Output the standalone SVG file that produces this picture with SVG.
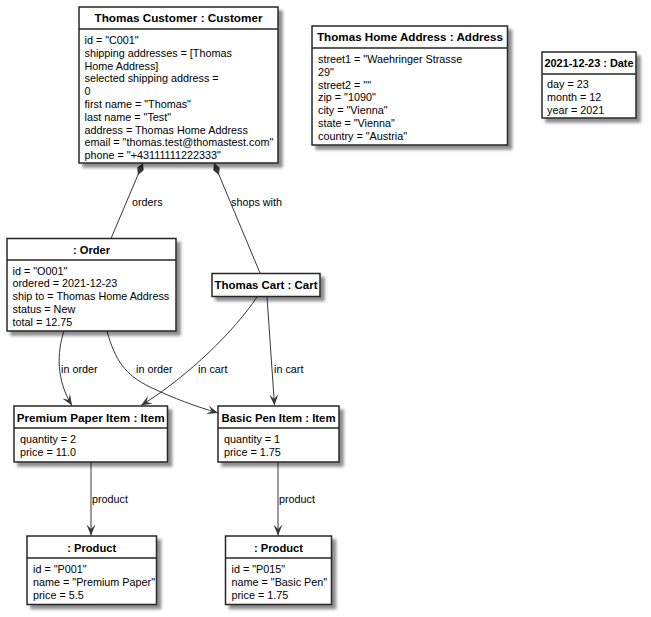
<svg xmlns="http://www.w3.org/2000/svg" width="651" height="617" viewBox="0 0 651 617">
<style>
.box{fill:#ffffff;stroke:#262626;stroke-width:1.5;filter:url(#sh)}
.sep{stroke:#262626;stroke-width:1.5}
.t{font-family:"Liberation Sans",Arial,sans-serif;font-weight:bold;font-size:11.7px;fill:#000;text-anchor:middle}
.b{font-family:"Liberation Sans",Arial,sans-serif;font-size:10.8px;fill:#000}
.l{font-family:"Liberation Sans",Arial,sans-serif;font-size:10.8px;fill:#000}
.c{fill:none;stroke:#383838;stroke-width:1}
</style>
<defs>
<filter id="sh" x="-10%" y="-10%" width="130%" height="140%">
<feGaussianBlur in="SourceAlpha" stdDeviation="1.8"/>
<feOffset dx="4" dy="4"/>
<feComponentTransfer><feFuncA type="linear" slope="0.45"/></feComponentTransfer>
<feMerge><feMergeNode/><feMergeNode in="SourceGraphic"/></feMerge>
</filter>
<marker id="arr" viewBox="0 0 11 10" refX="11" refY="5" markerWidth="11" markerHeight="10" markerUnits="userSpaceOnUse" orient="auto">
<path d="M11,5 L0,0.5 L4.5,5 L0,9.5 Z" fill="#383838"/>
</marker>
<marker id="dia" viewBox="0 0 13 9" refX="0" refY="4.5" markerWidth="13" markerHeight="9" markerUnits="userSpaceOnUse" orient="auto">
<path d="M0,4.5 L6.5,1 L13,4.5 L6.5,8 Z" fill="#383838"/>
</marker>
</defs>
<g id="connectors">
<path class="c" d="M143,163 L111,238.5" marker-start="url(#dia)"/>
<path class="c" d="M214,163 L260,273" marker-start="url(#dia)"/>
<path class="c" d="M64,331 C57,352 56,380 72,405.5" marker-end="url(#arr)"/>
<path class="c" d="M107,331 C115,360 125,375 150,387 C175,399 195,406 218,413" marker-end="url(#arr)"/>
<path class="c" d="M257,297 C235,330 190,375 141,405.5" marker-end="url(#arr)"/>
<path class="c" d="M267,297 L274.5,405.5" marker-end="url(#arr)"/>
<path class="c" d="M91,462 L91,535.5" marker-end="url(#arr)"/>
<path class="c" d="M278,462 L278,535.5" marker-end="url(#arr)"/>
<text class="l" x="132" y="206">orders</text>
<text class="l" x="231" y="206">shops with</text>
<text class="l" x="61" y="373">in order</text>
<text class="l" x="136" y="373">in order</text>
<text class="l" x="198" y="373">in cart</text>
<text class="l" x="274" y="373">in cart</text>
<text class="l" x="92" y="503">product</text>
<text class="l" x="279" y="503">product</text>
</g>
<g id="customer">
<rect class="box" x="79" y="7" width="199" height="156"/>
<line class="sep" x1="79" y1="29" x2="278" y2="29"/>
<text class="t" x="178.5" y="22" textLength="168" lengthAdjust="spacingAndGlyphs">Thomas Customer : Customer</text>
<text class="b"><tspan x="84.5" y="44">id = "C001"</tspan><tspan x="84.5" y="56.8">shipping addresses = [Thomas</tspan><tspan x="84.5" y="69.6">Home Address]</tspan><tspan x="84.5" y="82.4">selected shipping address =</tspan><tspan x="84.5" y="95.2">0</tspan><tspan x="84.5" y="108">first name = "Thomas"</tspan><tspan x="84.5" y="120.8">last name = "Test"</tspan><tspan x="84.5" y="133.6">address = Thomas Home Address</tspan><tspan x="84.5" y="146.4">email = "thomas.test@thomastest.com"</tspan><tspan x="84.5" y="159.2">phone = "+43111111222333"</tspan></text>
</g>
<g id="address">
<rect class="box" x="312" y="26" width="195.5" height="119"/>
<line class="sep" x1="312" y1="48" x2="507.5" y2="48"/>
<text class="t" x="410" y="41" textLength="186" lengthAdjust="spacingAndGlyphs">Thomas Home Address : Address</text>
<text class="b"><tspan x="318" y="63">street1 = "Waehringer Strasse</tspan><tspan x="318" y="75.8">29"</tspan><tspan x="318" y="88.6">street2 = ""</tspan><tspan x="318" y="101.4">zip = "1090"</tspan><tspan x="318" y="114.2">city = "Vienna"</tspan><tspan x="318" y="127">state = "Vienna"</tspan><tspan x="318" y="139.8">country = "Austria"</tspan></text>
</g>
<g id="date">
<rect class="box" x="542" y="52" width="94" height="66"/>
<line class="sep" x1="542" y1="74" x2="636" y2="74"/>
<text class="t" x="589" y="66.5" textLength="89" lengthAdjust="spacingAndGlyphs">2021-12-23 : Date</text>
<text class="b"><tspan x="547" y="88">day = 23</tspan><tspan x="547" y="100.8">month = 12</tspan><tspan x="547" y="113.6">year = 2021</tspan></text>
</g>
<g id="order">
<rect class="box" x="7" y="238.5" width="169" height="92.5"/>
<line class="sep" x1="7" y1="260" x2="176" y2="260"/>
<text class="t" x="91.5" y="253.5" textLength="37" lengthAdjust="spacingAndGlyphs">: Order</text>
<text class="b"><tspan x="12.5" y="274.5">id = "O001"</tspan><tspan x="12.5" y="287.3">ordered = 2021-12-23</tspan><tspan x="12.5" y="300.1">ship to = Thomas Home Address</tspan><tspan x="12.5" y="312.9">status = New</tspan><tspan x="12.5" y="325.7">total = 12.75</tspan></text>
</g>
<g id="cart">
<rect class="box" x="212" y="273.5" width="108" height="23"/>
<text class="t" x="266" y="289" textLength="103" lengthAdjust="spacingAndGlyphs">Thomas Cart : Cart</text>
</g>
<g id="item-paper">
<rect class="box" x="14" y="406" width="153.5" height="56"/>
<line class="sep" x1="14" y1="428" x2="167.5" y2="428"/>
<text class="t" x="90.7" y="421.5" textLength="148" lengthAdjust="spacingAndGlyphs">Premium Paper Item : Item</text>
<text class="b"><tspan x="20" y="443">quantity = 2</tspan><tspan x="20" y="455.8">price = 11.0</tspan></text>
</g>
<g id="item-pen">
<rect class="box" x="218" y="406" width="121" height="56"/>
<line class="sep" x1="218" y1="428" x2="339" y2="428"/>
<text class="t" x="278.5" y="421.5" textLength="114" lengthAdjust="spacingAndGlyphs">Basic Pen Item : Item</text>
<text class="b"><tspan x="224" y="443">quantity = 1</tspan><tspan x="224" y="455.8">price = 1.75</tspan></text>
</g>
<g id="product-paper">
<rect class="box" x="27" y="536" width="129.5" height="68.5"/>
<line class="sep" x1="27" y1="558" x2="156.5" y2="558"/>
<text class="t" x="91.7" y="551.5" textLength="49" lengthAdjust="spacingAndGlyphs">: Product</text>
<text class="b"><tspan x="33" y="573">id = "P001"</tspan><tspan x="33" y="585.8">name = "Premium Paper"</tspan><tspan x="33" y="598.6">price = 5.5</tspan></text>
</g>
<g id="product-pen">
<rect class="box" x="225.5" y="536" width="106" height="68.5"/>
<line class="sep" x1="225.5" y1="558" x2="331.5" y2="558"/>
<text class="t" x="278.5" y="551.5" textLength="49" lengthAdjust="spacingAndGlyphs">: Product</text>
<text class="b"><tspan x="231.5" y="573">id = "P015"</tspan><tspan x="231.5" y="585.8">name = "Basic Pen"</tspan><tspan x="231.5" y="598.6">price = 1.75</tspan></text>
</g>
</svg>
